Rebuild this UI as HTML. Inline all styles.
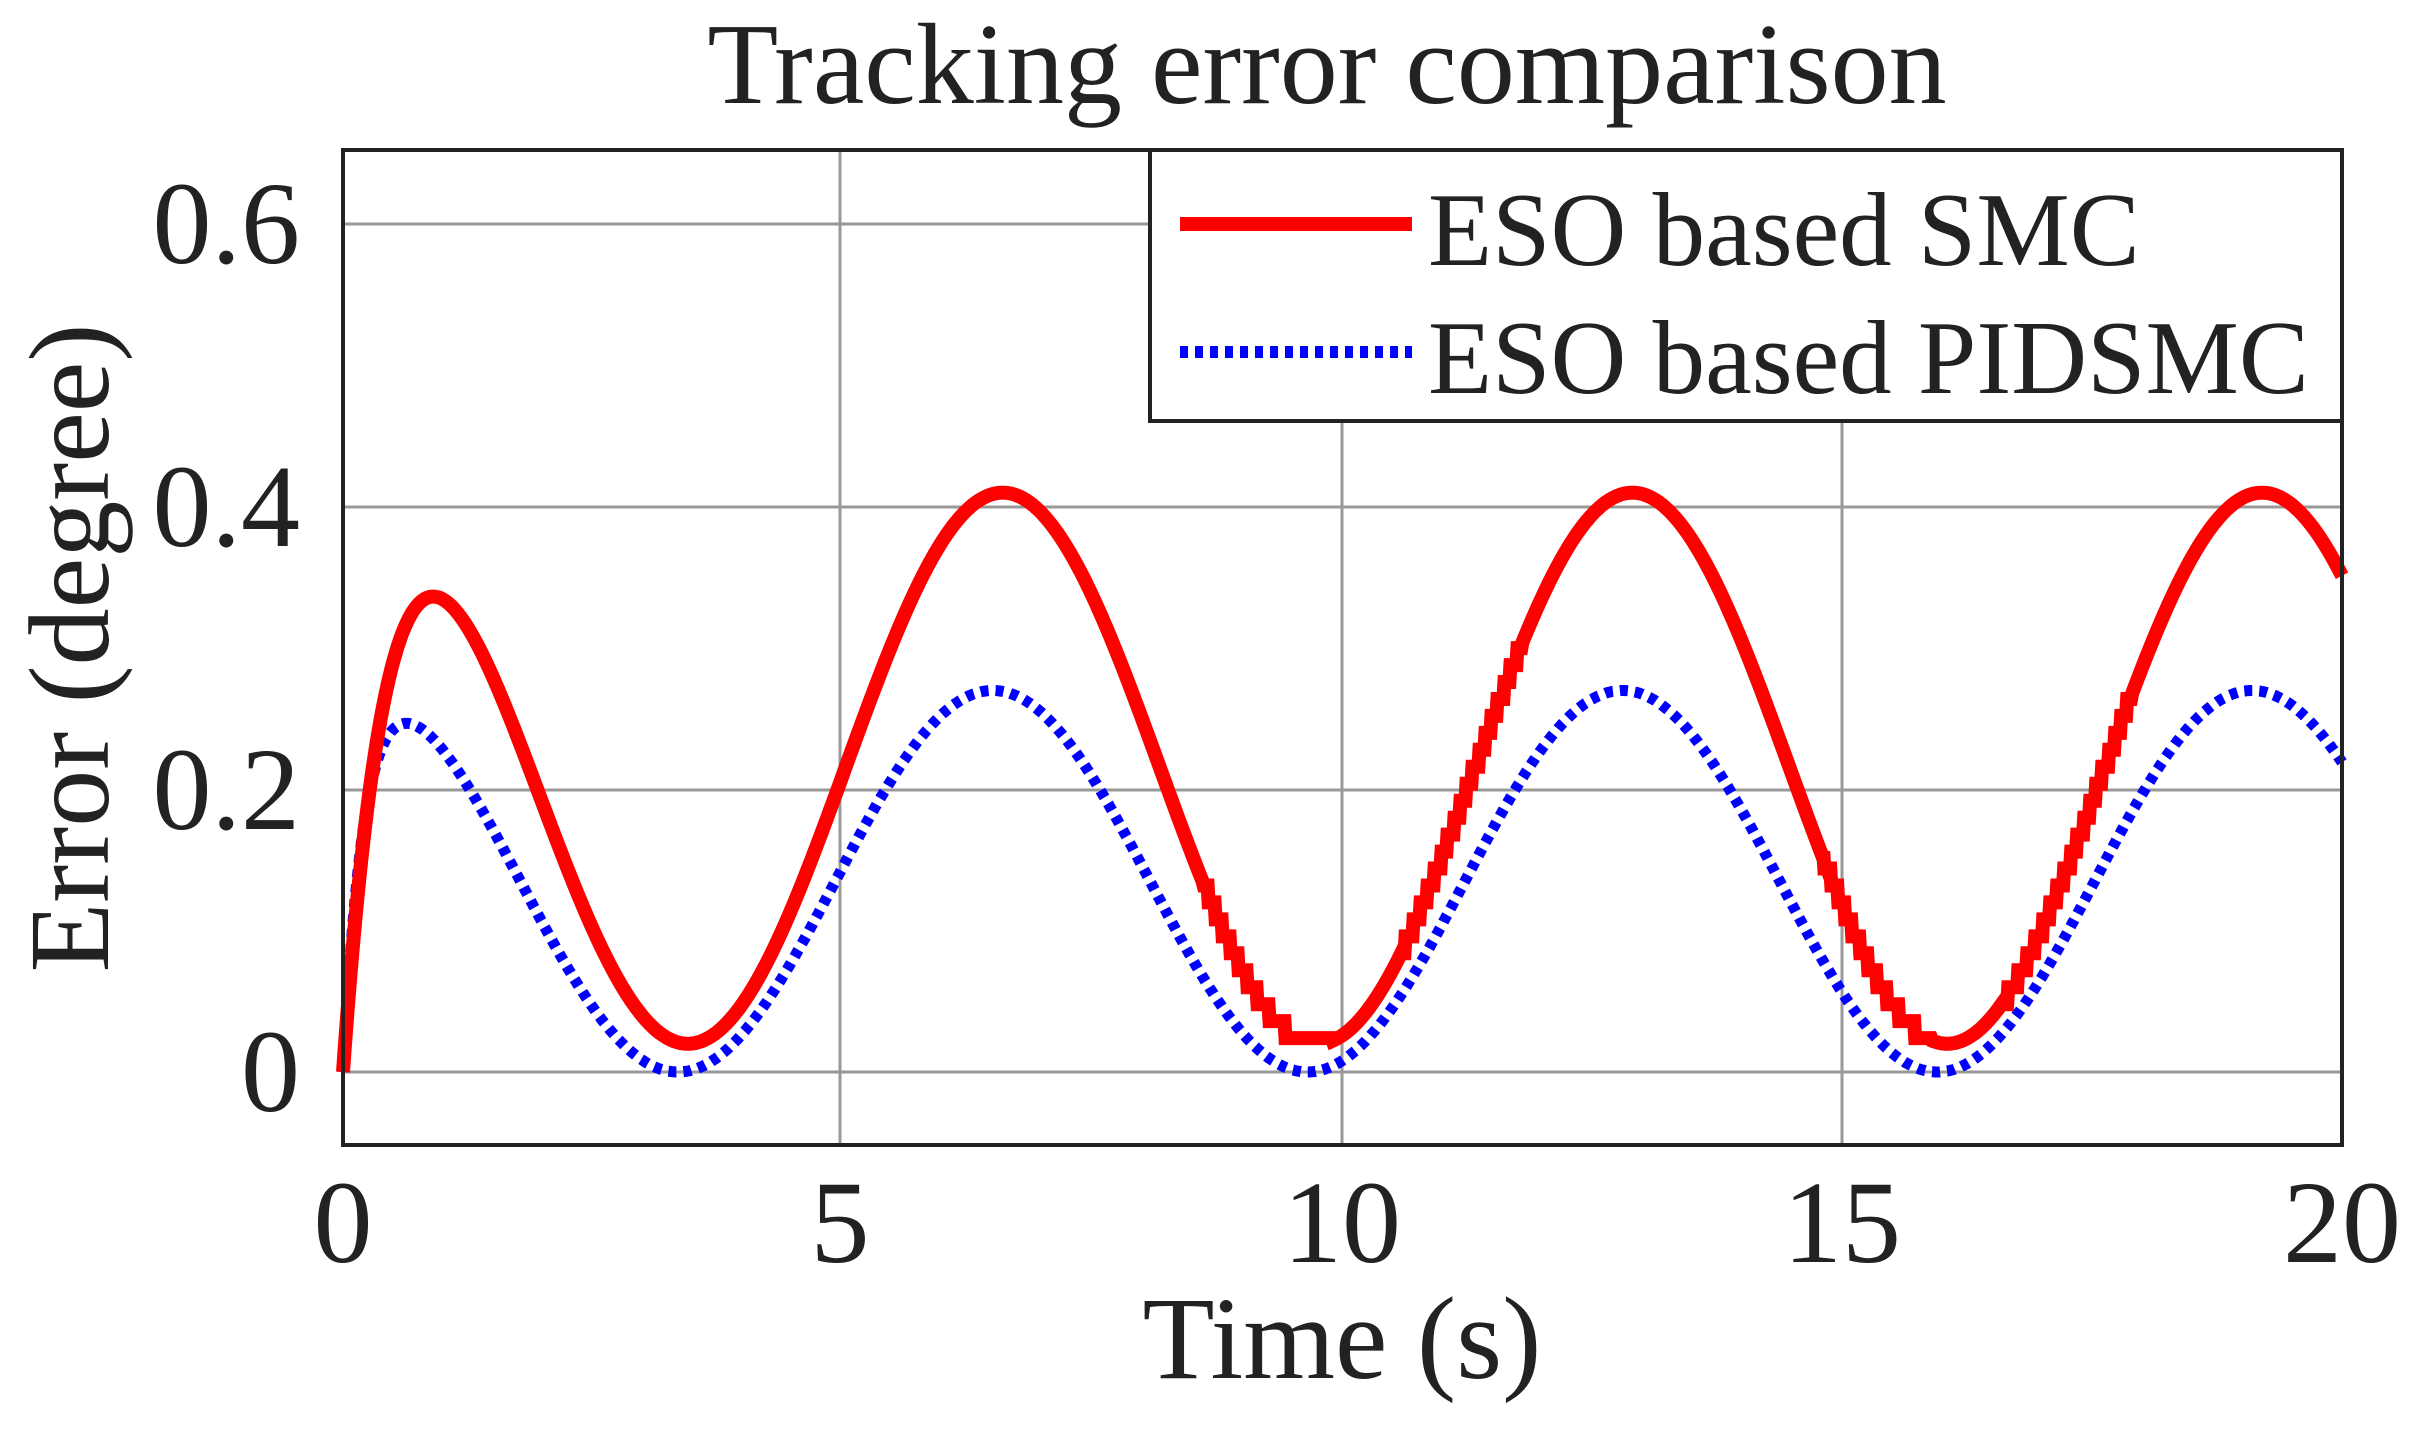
<!DOCTYPE html>
<html><head><meta charset="utf-8"><style>html,body{margin:0;padding:0;background:#fff}</style></head>
<body>
<svg id="s" width="2419" height="1429" xmlns="http://www.w3.org/2000/svg" font-family="Liberation Serif, serif" fill="#222">
<rect width="2419" height="1429" fill="#fff"/>
<g stroke="#999" stroke-width="3">
<line x1="343" y1="224" x2="2342" y2="224"/><line x1="343" y1="507" x2="2342" y2="507"/>
<line x1="343" y1="790" x2="2342" y2="790"/><line x1="343" y1="1072" x2="2342" y2="1072"/>
<line x1="840" y1="150" x2="840" y2="1145"/><line x1="1342" y1="150" x2="1342" y2="1145"/>
<line x1="1842" y1="150" x2="1842" y2="1145"/>
</g>
<g id="curves"></g>
<rect x="343" y="150" width="1999" height="995" fill="none" stroke="#222" stroke-width="4"/>
<rect x="1150" y="150" width="1192" height="271" fill="#fff" stroke="#222" stroke-width="4"/>
<line x1="1180" y1="224" x2="1412" y2="224" stroke="#f00" stroke-width="14"/>
<line x1="1180" y1="352" x2="1412" y2="352" stroke="#00f" stroke-width="12" stroke-dasharray="8 7"/>
<text x="1428" y="265" font-size="105">ESO based SMC</text>
<text x="1428" y="393" font-size="105">ESO based PIDSMC</text>
<text x="1327" y="103" font-size="116" text-anchor="middle">Tracking error comparison</text>
<g font-size="118" text-anchor="end">
<text x="300" y="263">0.6</text><text x="300" y="546">0.4</text>
<text x="300" y="829">0.2</text><text x="300" y="1111">0</text>
</g>
<g font-size="118" text-anchor="middle">
<text x="343" y="1262">0</text><text x="840" y="1262">5</text><text x="1342" y="1262">10</text>
<text x="1842" y="1262">15</text><text x="2342" y="1262">20</text>
</g>
<text x="1342" y="1378" font-size="118" text-anchor="middle">Time (s)</text>
<text transform="translate(108,648) rotate(-90)" font-size="114" text-anchor="middle">Error (degree)</text>
</svg>
<script>
var X=function(t){return 343+t*99.95},Y=function(v){return 1072-v*1413};
var r=[],b=[];
for(var i=0;i<=2000;i++){var t=i/100;
var rv=(0.215+0.195*Math.cos(2*Math.PI*(t-6.6)/6.3))*(1-Math.exp(-t/0.4));
if((t>8.6&&t<9.9)||(t>10.6&&t<11.8)||(t>14.8&&t<15.9)||(t>16.6&&t<17.9)){rv=Math.round(rv/0.012)*0.012;}
var bv=(0.135+0.135*Math.cos(2*Math.PI*(t-6.5)/6.3))*(1-Math.exp(-t/0.2));
r.push(X(t).toFixed(1)+","+Y(rv).toFixed(1));b.push(X(t).toFixed(1)+","+Y(bv).toFixed(1));}
document.getElementById("curves").innerHTML='<polyline fill="none" stroke="#00f" stroke-width="11" stroke-dasharray="8 7" points="'+b.join(" ")+'"/><polyline fill="none" stroke="#f00" stroke-width="14" points="'+r.join(" ")+'"/>';
</script>
</body></html>
